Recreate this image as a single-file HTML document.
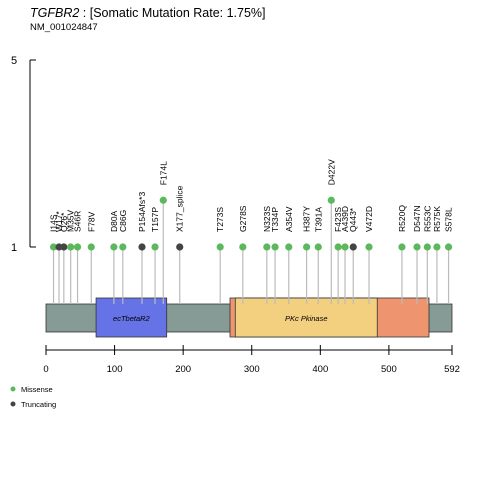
<!DOCTYPE html>
<html><head><meta charset="utf-8"><style>
body{margin:0;background:#fff;}
svg{display:block;font-family:"Liberation Sans",Arial,sans-serif;}
</style></head><body>
<svg id="chart" width="480" height="480" viewBox="0 0 480 480">
<text x="30" y="17" font-size="12.5"><tspan font-style="italic">TGFBR2</tspan> : [Somatic Mutation Rate: 1.75%]</text>
<text x="30" y="30" font-size="9.5">NM_001024847</text>
<g id="axes"></g>
<g id="protein"></g>
<g id="muts"></g>
<g>
<circle cx="13" cy="389" r="2.5" fill="#5cb85c"/>
<text x="21" y="392" font-size="7.5">Missense</text>
<circle cx="13" cy="404" r="2.5" fill="#444"/>
<text x="21" y="407" font-size="7.5">Truncating</text>
</g>
</svg>
<script>
const labels=["I14S","W17*","Q26*","M35V","S46R","F78V","D80A","C86G","P154Afs*3","T157P","F174L","X177_splice","T273S","G278S","N323S","T334P","A354V","H387Y","T391A","D422V","F423S","A439D","Q443*","V472D","R520Q","D547N","R553C","R575K","S578L"];
const positions=[11,19,26,36,46,66,99,112,140,159,171,195,254,287,322,334,354,380,397,416,426,436,448,471,519,541,556,570,587];
const counts=[1,1,1,1,1,1,1,1,1,1,2,1,1,1,1,1,1,1,1,2,1,1,1,1,1,1,1,1,1];
const types=["m","t","t","m","m","m","m","m","t","m","m","t","m","m","m","m","m","m","m","m","m","m","t","m","m","m","m","m","m"];
const xTicks=[0,100,200,300,400,500,592];
const yTicks=[1,5];
const domainNames=["ecTbetaR2","PKc Pkinase"];
const domainStart=[73,276];
const domainEnd=[176,483];
const protLen=592;
const NS="http://www.w3.org/2000/svg";
const xs=a=>46+a*(406/protLen);
const ys=v=>247-(v-1)*(187/4);
function mk(tag,attrs,parent){const e=document.createElementNS(NS,tag);for(const k in attrs)e.setAttribute(k,attrs[k]);parent.appendChild(e);return e;}
const ax=document.getElementById('axes'),pr=document.getElementById('protein'),mu=document.getElementById('muts');
let l=mk('line',{x1:30,x2:30,y1:ys(5),y2:ys(1),stroke:'#000','stroke-width':1},ax);


yTicks.forEach(v=>{
 let t=mk('line',{x1:30,x2:36,y1:ys(v),y2:ys(v),stroke:'#000'},ax);
 
 
 let tx=mk('text',{x:14,y:ys(v)+4,'font-size':11,'text-anchor':'middle'},ax);tx.textContent=v;
 
 
});
l=mk('line',{x1:xs(0),x2:xs(protLen),y1:350,y2:350,stroke:'#000'},ax);


xTicks.forEach(v=>{
 let t=mk('line',{x1:xs(v),x2:xs(v),y1:345,y2:355,stroke:'#000'},ax);
 
 
 let tx=mk('text',{x:xs(v),y:372,'font-size':9.5,'text-anchor':'middle'},ax);tx.textContent=v;
 
 
});
positions.forEach((p,i)=>{
 let s=mk('line',{x1:xs(p),x2:xs(p),y1:ys(counts[i]),y2:304,stroke:'#bbb','stroke-width':1.2},mu);
 
 
});
let b=mk('rect',{x:xs(0),y:304,width:xs(protLen)-xs(0),height:28,fill:'#869a96',stroke:'#333','stroke-width':0.8},pr);


b=mk('rect',{x:230,y:298,width:199,height:39,fill:'#ee9570',stroke:'#333','stroke-width':0.8},pr);


const dcol=['#6673e6','#f3cf80'];
domainNames.forEach((n,i)=>{
 let r=mk('rect',{x:xs(domainStart[i]),y:298,width:xs(domainEnd[i])-xs(domainStart[i]),height:39,fill:dcol[i],stroke:'#333','stroke-width':0.8},pr);
 
 
 let t=mk('text',{x:(xs(domainStart[i])+xs(domainEnd[i]))/2,y:321,'font-size':7.5,'font-style':'italic','text-anchor':'middle'},pr);t.textContent=n;
 
 
});
positions.forEach((p,i)=>{
 const x=xs(p),y=ys(counts[i]);
 let c=mk('circle',{cx:x,cy:y,r:3.6,fill:types[i]=='m'?'#5cb85c':'#444'},mu);
 
 
 let t=mk('text',{x:0,y:0,'font-size':8.5,transform:`translate(${x+3},${y-15}) rotate(-90)`},mu);t.textContent=labels[i];
 
 
});
</script>
</body></html>
